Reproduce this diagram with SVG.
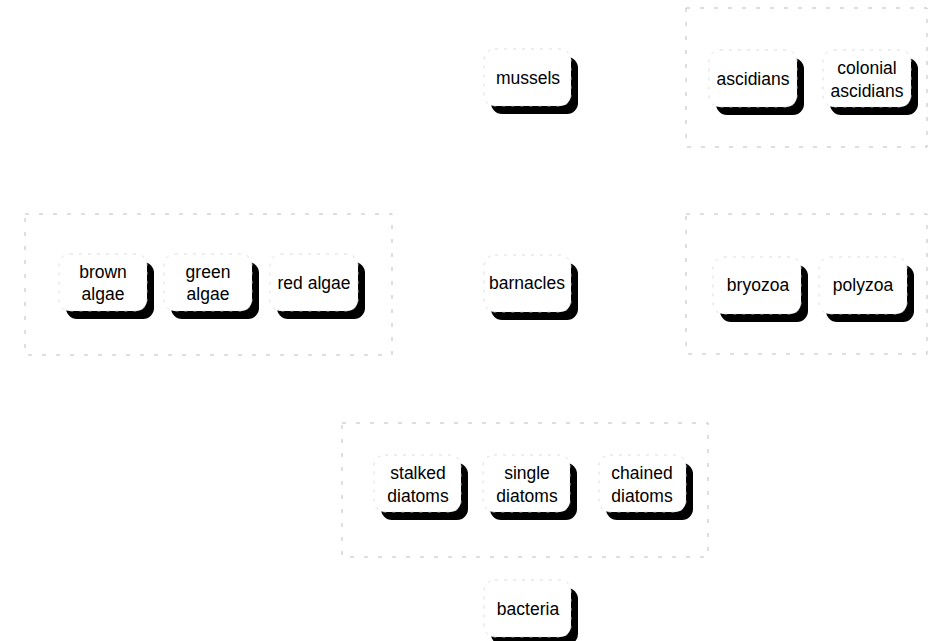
<svg xmlns="http://www.w3.org/2000/svg" width="932" height="641" viewBox="0 0 932 641">
<defs>
<style>
.bg{fill:#ffffff}
.cluster{fill:none;stroke:#bdbdbd;stroke-width:1;stroke-dasharray:4 10}
.shadow{fill:#000000}
.box{fill:#ffffff;stroke:#d4d4d4;stroke-width:0.8;stroke-dasharray:3 6}
.lbl{font-family:"Liberation Sans",Arial,sans-serif;font-size:17.5px;fill:#000000;text-anchor:middle}
</style>
</defs>
<rect class="bg" x="0" y="0" width="932" height="641"/>
<g id="clusters">
<rect id="cluster-ascidians" class="cluster" x="686" y="8" width="241" height="139"/>
<rect id="cluster-algae" class="cluster" x="25" y="214" width="367" height="141"/>
<rect id="cluster-bryozoa" class="cluster" x="686" y="214" width="241" height="140"/>
<rect id="cluster-diatoms" class="cluster" x="342" y="423" width="366" height="134"/>
</g>
<g id="connectors"></g>
<g id="mussels" transform="translate(484,49)">
<rect class="shadow" x="7" y="8" width="87" height="57" rx="11"/>
<rect class="box" x="0" y="0" width="87" height="57" rx="11"/>
<text class="lbl" x="44" y="35">mussels</text>
</g>
<g id="ascidians" transform="translate(709,50)">
<rect class="shadow" x="7" y="8" width="88" height="57" rx="11"/>
<rect class="box" x="0" y="0" width="88" height="57" rx="11"/>
<text class="lbl" x="44" y="35">ascidians</text>
</g>
<g id="colonial-ascidians" transform="translate(823,50)">
<rect class="shadow" x="7" y="8" width="88" height="57" rx="11"/>
<rect class="box" x="0" y="0" width="88" height="57" rx="11"/>
<text class="lbl" x="44" y="24">colonial</text>
<text class="lbl" x="44" y="47">ascidians</text>
</g>
<g id="brown-algae" transform="translate(59,254)">
<rect class="shadow" x="7" y="8" width="88" height="57" rx="11"/>
<rect class="box" x="0" y="0" width="88" height="57" rx="11"/>
<text class="lbl" x="44" y="24">brown</text>
<text class="lbl" x="44" y="46">algae</text>
</g>
<g id="green-algae" transform="translate(164,254)">
<rect class="shadow" x="7" y="8" width="88" height="57" rx="11"/>
<rect class="box" x="0" y="0" width="88" height="57" rx="11"/>
<text class="lbl" x="44" y="24">green</text>
<text class="lbl" x="44" y="46">algae</text>
</g>
<g id="red-algae" transform="translate(270,254)">
<rect class="shadow" x="7" y="8" width="88" height="57" rx="11"/>
<rect class="box" x="0" y="0" width="88" height="57" rx="11"/>
<text class="lbl" x="44" y="35">red algae</text>
</g>
<g id="barnacles" transform="translate(484,255)">
<rect class="shadow" x="7" y="8" width="87" height="57" rx="11"/>
<rect class="box" x="0" y="0" width="87" height="57" rx="11"/>
<text class="lbl" x="43" y="34">barnacles</text>
</g>
<g id="bryozoa" transform="translate(713,257)">
<rect class="shadow" x="7" y="8" width="88" height="57" rx="11"/>
<rect class="box" x="0" y="0" width="88" height="57" rx="11"/>
<text class="lbl" x="45" y="34">bryozoa</text>
</g>
<g id="polyzoa" transform="translate(819,257)">
<rect class="shadow" x="7" y="8" width="88" height="57" rx="11"/>
<rect class="box" x="0" y="0" width="88" height="57" rx="11"/>
<text class="lbl" x="44" y="34">polyzoa</text>
</g>
<g id="stalked-diatoms" transform="translate(374,455)">
<rect class="shadow" x="7" y="8" width="87" height="57" rx="11"/>
<rect class="box" x="0" y="0" width="87" height="57" rx="11"/>
<text class="lbl" x="44" y="24">stalked</text>
<text class="lbl" x="44" y="47">diatoms</text>
</g>
<g id="single-diatoms" transform="translate(483,455)">
<rect class="shadow" x="7" y="8" width="87" height="57" rx="11"/>
<rect class="box" x="0" y="0" width="87" height="57" rx="11"/>
<text class="lbl" x="44" y="24">single</text>
<text class="lbl" x="44" y="47">diatoms</text>
</g>
<g id="chained-diatoms" transform="translate(599,455)">
<rect class="shadow" x="7" y="8" width="87" height="57" rx="11"/>
<rect class="box" x="0" y="0" width="87" height="57" rx="11"/>
<text class="lbl" x="43" y="24">chained</text>
<text class="lbl" x="43" y="47">diatoms</text>
</g>
<g id="bacteria" transform="translate(484,580)">
<rect class="shadow" x="7" y="8" width="87" height="57" rx="11"/>
<rect class="box" x="0" y="0" width="87" height="57" rx="11"/>
<text class="lbl" x="44" y="35">bacteria</text>
</g>
</svg>
